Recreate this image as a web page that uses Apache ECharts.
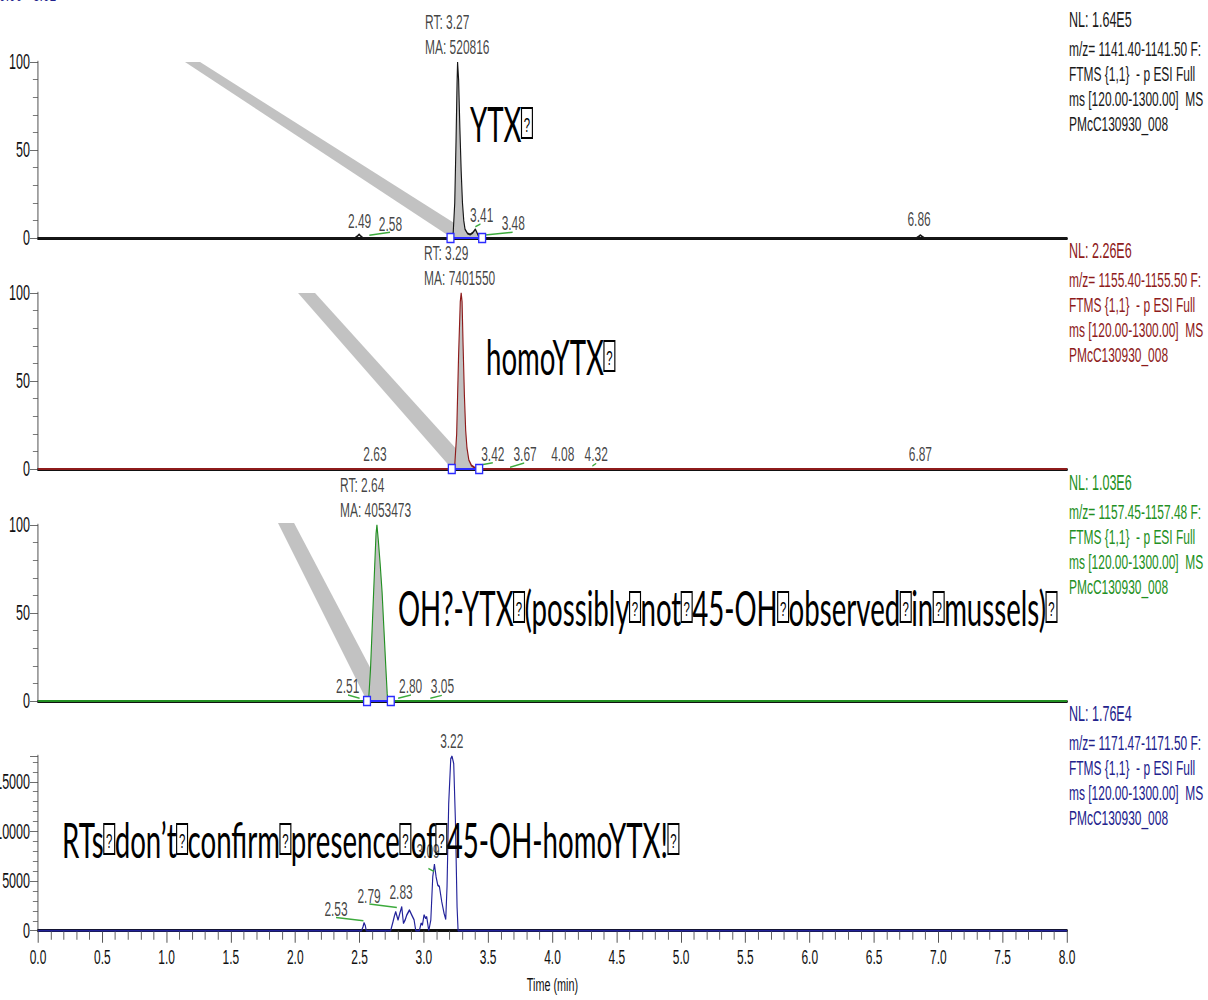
<!DOCTYPE html>
<html>
<head>
<meta charset="utf-8">
<script src="https://cdn.jsdelivr.net/npm/echarts@6/dist/echarts.min.js"></script>
<style>
html,body{margin:0;padding:0;overflow:hidden;background:#fff;width:1208px;height:1000px;}
#chart{width:2120px;height:1000px;transform:scaleX(0.5698113);transform-origin:0 0;}
</style>
</head>
<body>
<div id="chart"></div>
<script>
// ---------------- DATA ----------------
const timeRange = [0, 8];
const timeAxisName = 'Time (min)';
const rangeText = 'RT: 0.00 - 8.01';

// Panel 1 : YTX  (m/z 1141.40-1141.50)
const ytxTrace = [[0,0],[2.465,0],[2.485,1.2],[2.497,2],[2.51,1],[2.525,0],[3.215,0],[3.228,3],[3.24,20],[3.25,55],[3.258,88],[3.262,100],[3.27,90],[3.28,62],[3.29,38],[3.30,20],[3.31,10],[3.32,5],[3.34,2.5],[3.36,2],[3.38,3],[3.40,5],[3.41,3.5],[3.425,1],[3.45,0],[6.83,0],[6.85,1],[6.86,1.6],[6.875,0.8],[6.89,0],[8,0]];
const ytxIntegration = [3.207, 3.453];
const ytxPeakLabels = [[2.50,9.7,'2.49'],[2.74,8.1,'2.58'],[3.45,12.8,'3.41'],[3.695,8.3,'3.48'],[6.85,10.4,'6.86']];
const ytxRT = [3.009, 115.5, 'RT: 3.27\nMA: 520816'];
const ytxLeaders = [[[2.576,1.5],[2.737,3.2]],[[3.40,6.4],[3.44,8]],[[3.476,1.7],[3.69,3.2]]];
const ytxArrow = [[1.143,100],[1.260,100],[3.297,5.7],[3.219,0]];
const ytxInfo = ['NL: 1.64E5','m/z= 1141.40-1141.50 F:','FTMS {1,1}  - p ESI Full','ms [120.00-1300.00]  MS','PMcC130930_008'];
const ytxNote = 'YTX⍰';

// Panel 2 : homoYTX (m/z 1155.40-1155.50)
const homoTrace = [[0,0],[3.225,0],[3.24,2],[3.255,20],[3.27,65],[3.283,95],[3.29,100],[3.297,95],[3.305,70],[3.315,42],[3.325,22],[3.335,12],[3.35,5],[3.37,2],[3.39,1],[3.42,0],[8,0]];
const homoIntegration = [3.217, 3.43];
const homoPeakLabels = [[2.62,8.5,'2.63'],[3.536,8.5,'3.42'],[3.787,8.5,'3.67'],[4.08,8.5,'4.08'],[4.34,8.5,'4.32'],[6.86,8.5,'6.87']];
const homoRT = [3.0016, 115.5, 'RT: 3.29\nMA: 7401550'];
const homoLeaders = [[[3.44,2.3],[3.536,3.6]],[[3.67,1],[3.78,3.4]],[[4.31,1.7],[4.34,3.2]]];
const homoArrow = [[2.022,100],[2.154,100],[3.344,4.0],[3.219,0]];
const homoInfo = ['NL: 2.26E6','m/z= 1155.40-1155.50 F:','FTMS {1,1}  - p ESI Full','ms [120.00-1300.00]  MS','PMcC130930_008'];
const homoNote = 'homoYTX⍰';

// Panel 3 : OH-YTX (m/z 1157.45-1157.48)
const ohTrace = [[0,0],[2.57,0],[2.585,18],[2.60,45],[2.615,72],[2.628,95],[2.635,100],[2.645,92],[2.66,78],[2.675,62],[2.69,40],[2.705,18],[2.715,4],[2.722,0],[8,0]];
const ohIntegration = [2.558, 2.743];
const ohPeakLabels = [[2.408,8.6,'2.51'],[2.897,8.6,'2.80'],[3.144,8.6,'3.05']];
const ohRT = [2.348, 115.3, 'RT: 2.64\nMA: 4053473'];
const ohLeaders = [[[2.41,3.4],[2.50,1.5]],[[2.80,1.5],[2.90,3.4]],[[3.05,1.5],[3.14,3.2]]];
const ohArrow = [[1.866,101.1],[1.991,101.1],[2.690,4.0],[2.558,0]];
const ohInfo = ['NL: 1.03E6','m/z= 1157.45-1157.48 F:','FTMS {1,1}  - p ESI Full','ms [120.00-1300.00]  MS','PMcC130930_008'];
const ohNote = 'OH?-YTX⍰(possibly⍰not⍰45-OH⍰observed⍰in⍰mussels)⍰';

// Panel 4 : OH-homoYTX (m/z 1171.47-1171.50), absolute intensity
const ohHomoTrace = [[0,0],[2.515,0],[2.527,400],[2.535,800],[2.545,500],[2.552,0],[2.742,0],[2.76,900],[2.771,1480],[2.781,1910],[2.799,1080],[2.812,1700],[2.828,2410],[2.841,740],[2.855,1100],[2.867,1580],[2.888,2080],[2.906,1580],[2.924,1080],[2.937,0],[2.965,0],[2.978,740],[2.989,580],[3.001,1580],[3.014,1240],[3.022,1410],[3.038,0],[3.054,1080],[3.069,5430],[3.082,6700],[3.095,5430],[3.108,4590],[3.121,4430],[3.139,2920],[3.157,1740],[3.17,1140],[3.18,4430],[3.193,12810],[3.209,17340],[3.219,17570],[3.232,16840],[3.245,11130],[3.258,2410],[3.266,0],[8,0]];
const ohHomoPeakLabels = [[2.317,2212,'2.53'],[2.574,3450,'2.79'],[2.823,3920,'2.83'],[3.033,7995,'3.09'],[3.217,19040,'3.22']];
const ohHomoLeaders = [[[2.317,1338],[2.53,1006]],[[2.576,2685],[2.79,2343]],[[3.035,6266],[3.08,5964]]];
const ohHomoInfo = ['NL: 1.76E4','m/z= 1171.47-1171.50 F:','FTMS {1,1}  - p ESI Full','ms [120.00-1300.00]  MS','PMcC130930_008'];
const ohHomoNote = 'RTs⍰don’t⍰confirm⍰presence⍰of⍰45-OH-homoYTX!⍰';

const yMaxima = [100, 100, 100, 17600];
const yIntervals = [50, 50, 50, 5000];

// ---------------- LAYOUT / STYLE ----------------
const W = 2120;
const SX = 1208 / W;
const px = x => x / SX;           // reference px -> unscaled px
const FONT = 'Liberation Sans, Arial, sans-serif';
const NOTE_FONT = 'Lato, Open Sans, sans-serif';

const panels = [
  {trace: ytxTrace, integ: ytxIntegration, labels: ytxPeakLabels, rt: ytxRT, leaders: ytxLeaders, arrow: ytxArrow, info: ytxInfo, note: ytxNote},
  {trace: homoTrace, integ: homoIntegration, labels: homoPeakLabels, rt: homoRT, leaders: homoLeaders, arrow: homoArrow, info: homoInfo, note: homoNote},
  {trace: ohTrace, integ: ohIntegration, labels: ohPeakLabels, rt: ohRT, leaders: ohLeaders, arrow: ohArrow, info: ohInfo, note: ohNote},
  {trace: ohHomoTrace, integ: null, labels: ohHomoPeakLabels, rt: null, leaders: ohHomoLeaders, arrow: null, info: ohHomoInfo, note: ohHomoNote}
];
const layout = [
  {top: 62, height: 176, color: '#161616', infoColor: '#1a1a1a', noteX: 470, noteY: 123},
  {top: 293, height: 176, color: '#8e1b1b', infoColor: '#8e1b1b', noteX: 486, noteY: 356},
  {top: 525, height: 176, color: '#239023', infoColor: '#239023', noteX: 398, noteY: 607},
  {top: 756, height: 174.7, color: '#22229a', infoColor: '#22228c', noteX: 62, noteY: 839}
];
const infoOffsets = [-42, -13, 12, 37, 62];

const chart = echarts.init(document.getElementById('chart'), null, {renderer: 'svg', width: W, height: 1000});

const grids = [], xAxes = [], yAxes = [], series = [], graphics = [];

panels.forEach((p, i) => {
  const L = layout[i];
  const last = i === panels.length - 1;
  grids.push({left: px(38), right: W - px(1067), top: L.top, height: L.height, containLabel: false, outerBoundsMode: 'none'});
  xAxes.push({
    type: 'value', gridIndex: i, min: timeRange[0], max: timeRange[1], interval: 0.5,
    axisLine: {show: true, onZero: false, lineStyle: {color: '#111', width: 3}},
    axisTick: last ? {show: true, length: 12, lineStyle: {color: '#444', width: 1.6}} : {show: false},
    minorTick: last ? {show: true, splitNumber: 5, length: 9, lineStyle: {color: '#555', width: 1.6}} : {show: false},
    axisLabel: last ? {show: true, fontSize: 21, fontFamily: FONT, color: '#111', margin: 16, formatter: v => v.toFixed(1)} : {show: false},
    splitLine: {show: false}, minorSplitLine: {show: false},
    name: last ? timeAxisName : '', nameLocation: 'middle', nameGap: 44,
    nameTextStyle: {fontSize: 19, fontFamily: FONT, color: '#111'}
  });
  yAxes.push({
    type: 'value', gridIndex: i, min: 0, max: yMaxima[i], interval: yIntervals[i],
    axisLine: {show: true, lineStyle: {color: '#9a9a9a', width: 3}},
    axisTick: {show: true, length: 14, lineStyle: {color: '#444', width: 1}},
    minorTick: {show: true, splitNumber: 5, length: 9, lineStyle: {color: '#555', width: 1}},
    axisLabel: {show: true, fontSize: 22, fontFamily: FONT, color: '#111', margin: 14, showMaxLabel: !last,
      formatter: v => String(Math.round(v))},
    splitLine: {show: false}, minorSplitLine: {show: false}
  });

  if (p.arrow) {
    series.push({
      type: 'custom', xAxisIndex: i, yAxisIndex: i, clip: false, silent: true, z: 1,
      data: [p.arrow.flat()],
      renderItem: (params, api) => {
        const pts = [];
        for (let k = 0; k < 4; k++) pts.push(api.coord([api.value(2 * k), api.value(2 * k + 1)]));
        return {type: 'polygon', shape: {points: pts}, style: {fill: '#c2c2c2'}};
      }
    });
  }
  if (p.integ) {
    const a = p.integ[0], b = p.integ[1];
    const area = [[a, 0]].concat(p.trace.filter(d => d[0] > a && d[0] < b), [[b, 0]]);
    series.push({
      type: 'line', xAxisIndex: i, yAxisIndex: i, data: area, symbol: 'none', silent: true, z: 2,
      lineStyle: {width: 0}, areaStyle: {color: '#c2c2c2', opacity: 1}, animation: false
    });
  }
  series.push({
    type: 'line', xAxisIndex: i, yAxisIndex: i, data: p.trace, symbol: 'none', showSymbol: false, silent: true, z: 3,
    lineStyle: {color: L.color, width: 2}, animation: false
  });
  if (p.integ) {
    series.push({
      type: 'line', xAxisIndex: i, yAxisIndex: i, data: [[p.integ[0], 0], [p.integ[1], 0]], silent: true, z: 4,
      symbol: 'emptyRect', symbolSize: [12, 9], showSymbol: true,
      itemStyle: {color: '#2b2bff', borderColor: '#2b2bff', borderWidth: 1.6},
      lineStyle: {color: '#2b2bff', width: 2}, animation: false
    });
  }
  series.push({
    type: 'lines', coordinateSystem: 'cartesian2d', xAxisIndex: i, yAxisIndex: i, silent: true, z: 4,
    data: p.leaders.map(c => ({coords: c})), lineStyle: {color: '#3caa3c', width: 1.5, opacity: 1}, animation: false
  });
  series.push({
    type: 'scatter', xAxisIndex: i, yAxisIndex: i, clip: false, silent: true, z: 5, symbolSize: 1,
    itemStyle: {color: 'rgba(0,0,0,0)'},
    data: p.labels.map(l => ({value: [l[0], l[1]], name: l[2]})),
    label: {show: true, position: 'inside', formatter: q => q.name, fontSize: 21, fontFamily: FONT, color: '#111'},
    animation: false
  });
  if (p.rt) {
    series.push({
      type: 'scatter', xAxisIndex: i, yAxisIndex: i, clip: false, silent: true, z: 5, symbolSize: 1,
      itemStyle: {color: 'rgba(0,0,0,0)'},
      data: [{value: [p.rt[0], p.rt[1]], name: p.rt[2]}],
      label: {show: true, position: 'inside', align: 'left', verticalAlign: 'middle', lineHeight: 25,
        formatter: q => q.name, fontSize: 21, fontFamily: FONT, color: '#111'},
      animation: false
    });
  }

  // info block at right
  p.info.forEach((t, k) => {
    graphics.push({
      type: 'text', x: px(1069), y: L.top + infoOffsets[k], silent: true, z: 10,
      style: {text: t, fontSize: k === 0 ? 22 : 21, fontFamily: FONT, fill: L.infoColor,
        align: 'left', verticalAlign: 'middle', textAlign: 'left', textVerticalAlign: 'middle'}
    });
  });
  // big annotation
  graphics.push({
    type: 'text', x: px(L.noteX), y: L.noteY, silent: true, z: 10,
    style: {
      text: p.note.split('⍰').join('{q|?}'),
      fontSize: 48.5, fontFamily: NOTE_FONT, fill: '#000',
      align: 'left', verticalAlign: 'middle', textAlign: 'left', textVerticalAlign: 'middle',
      rich: {q: {fontSize: 20, fontFamily: FONT, fill: '#000', color: '#000', borderColor: '#000', borderWidth: 2,
        padding: [7, 4, 3, 4], lineHeight: 18}}
    }
  });
});

graphics.push({
  type: 'text', x: px(-22), y: -16, silent: true, z: 10,
  style: {text: rangeText, fontSize: 21, fontFamily: FONT, fill: '#22228c', align: 'left', verticalAlign: 'top', textAlign: 'left', textVerticalAlign: 'top'}
});

chart.setOption({
  animation: false,
  backgroundColor: '#ffffff',
  grid: grids,
  xAxis: xAxes,
  yAxis: yAxes,
  series: series,
  graphic: graphics
});
</script>
</body>
</html>
